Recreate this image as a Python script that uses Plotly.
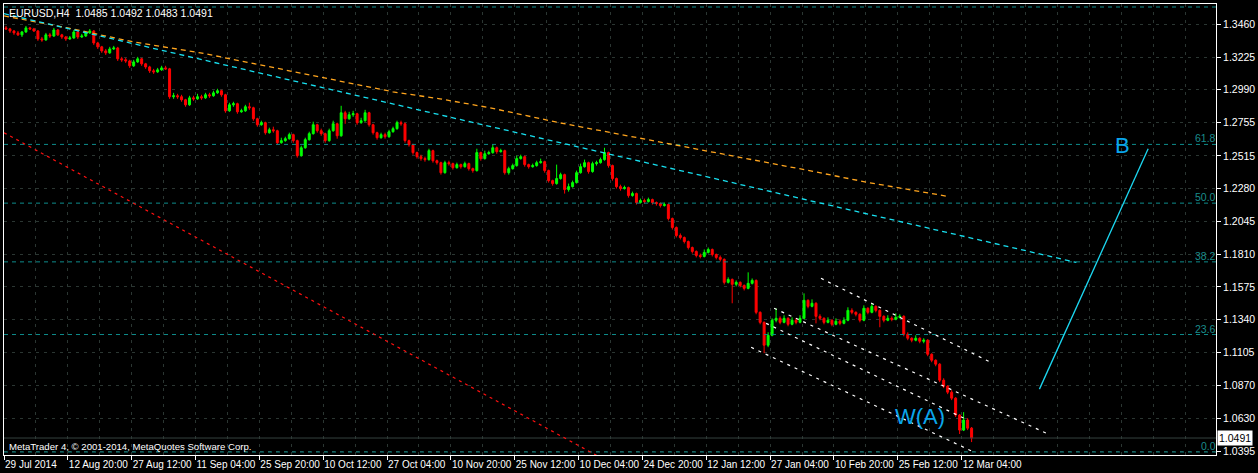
import plotly.graph_objects as go

# ---------------- data (EURUSD H4, one candle = 4 bars) ----------------
first_open = 1.3434
closes = [
    1.3427, 1.3412, 1.3398, 1.3384, 1.3405, 1.3434, 1.3427, 1.3412, 1.3355, 1.3348,
    1.3384, 1.3376, 1.3419, 1.3384, 1.3369, 1.3355, 1.3362, 1.3405, 1.3369, 1.3376,
    1.3398, 1.3412, 1.3326, 1.3298, 1.3269, 1.3255, 1.3283, 1.3290, 1.3212, 1.3205,
    1.3197, 1.3162, 1.3190, 1.3212, 1.3176, 1.3154, 1.3126, 1.3119, 1.3133, 1.3147,
    1.3140, 1.2940, 1.2947, 1.2940, 1.2918, 1.2882, 1.2932, 1.2925, 1.2940, 1.2932,
    1.2954, 1.2947, 1.2968, 1.2983, 1.2954, 1.2839, 1.2882, 1.2890, 1.2832, 1.2839,
    1.2868, 1.2861, 1.2782, 1.2739, 1.2754, 1.2682, 1.2703, 1.2696, 1.2610, 1.2625,
    1.2639, 1.2668, 1.2625, 1.2517, 1.2574, 1.2632, 1.2675, 1.2739, 1.2696, 1.2675,
    1.2625, 1.2696, 1.2746, 1.2660, 1.2825, 1.2782, 1.2811, 1.2818, 1.2754, 1.2768,
    1.2825, 1.2739, 1.2682, 1.2646, 1.2668, 1.2653, 1.2689, 1.2711, 1.2754, 1.2746,
    1.2625, 1.2596, 1.2539, 1.2510, 1.2496, 1.2489, 1.2553, 1.2481, 1.2467, 1.2395,
    1.2467, 1.2460, 1.2431, 1.2453, 1.2438, 1.2460, 1.2424, 1.2410, 1.2539, 1.2496,
    1.2531, 1.2539, 1.2574, 1.2546, 1.2553, 1.2395, 1.2424, 1.2446, 1.2496, 1.2510,
    1.2453, 1.2438, 1.2446, 1.2467, 1.2474, 1.2410, 1.2338, 1.2317, 1.2353, 1.2381,
    1.2274, 1.2295, 1.2324, 1.2395, 1.2438, 1.2467, 1.2403, 1.2460, 1.2467, 1.2489,
    1.2539, 1.2446, 1.2353, 1.2295, 1.2281, 1.2288, 1.2231, 1.2245, 1.2181, 1.2195,
    1.2188, 1.2202, 1.2181, 1.2174, 1.2159, 1.2166, 1.2066, 1.2002, 1.1944, 1.1930,
    1.1901, 1.1858, 1.1830, 1.1801, 1.1794, 1.1823, 1.1844, 1.1808, 1.1787, 1.1773,
    1.1608, 1.1629, 1.1594, 1.1608, 1.1586, 1.1565, 1.1601, 1.1622, 1.1393, 1.1321,
    1.1157, 1.1228, 1.1336, 1.1350, 1.1321, 1.1350, 1.1307, 1.1336, 1.1321, 1.1350,
    1.1479, 1.1436, 1.1458, 1.1364, 1.1350, 1.1321, 1.1336, 1.1307, 1.1329, 1.1314,
    1.1336, 1.1407, 1.1393, 1.1379, 1.1336, 1.1422, 1.1393, 1.1436, 1.1407, 1.1364,
    1.1336, 1.1350, 1.1343, 1.1357, 1.1364, 1.1236, 1.1207, 1.1193, 1.1207, 1.1185,
    1.1193, 1.1092, 1.1049, 1.1021, 1.0906, 1.0863, 1.0820, 1.0777, 1.0656, 1.0548,
    1.0620, 1.0562, 1.0491,
]
highs = [
    1.3448, 1.3434, 1.3419, 1.3412, 1.3412, 1.3448, 1.3441, 1.3434, 1.3419, 1.3369,
    1.3398, 1.3398, 1.3434, 1.3426, 1.3391, 1.3376, 1.3376, 1.3419, 1.3412, 1.3391,
    1.3412, 1.3426, 1.3419, 1.3334, 1.3305, 1.3283, 1.3298, 1.3305, 1.3298, 1.3226,
    1.3219, 1.3205, 1.3205, 1.3226, 1.3219, 1.3183, 1.3162, 1.3140, 1.3147, 1.3162,
    1.3162, 1.3147, 1.2968, 1.2961, 1.2954, 1.2925, 1.2947, 1.2947, 1.2961, 1.2954,
    1.2968, 1.2968, 1.2983, 1.2997, 1.2990, 1.2961, 1.2897, 1.2904, 1.2897, 1.2854,
    1.2882, 1.2897, 1.2868, 1.2789, 1.2768, 1.2761, 1.2718, 1.2725, 1.2703, 1.2646,
    1.2653, 1.2682, 1.2675, 1.2632, 1.2589, 1.2646, 1.2689, 1.2761, 1.2746, 1.2711,
    1.2682, 1.2711, 1.2768, 1.2754, 1.2875, 1.2839, 1.2832, 1.2839, 1.2825, 1.2789,
    1.2846, 1.2832, 1.2746, 1.2689, 1.2682, 1.2682, 1.2703, 1.2725, 1.2768, 1.2768,
    1.2754, 1.2632, 1.2603, 1.2546, 1.2524, 1.2510, 1.2567, 1.2560, 1.2489, 1.2474,
    1.2481, 1.2481, 1.2467, 1.2467, 1.2460, 1.2474, 1.2467, 1.2431, 1.2567, 1.2546,
    1.2553, 1.2553, 1.2596, 1.2582, 1.2567, 1.2560, 1.2438, 1.2460, 1.2517, 1.2524,
    1.2517, 1.2460, 1.2460, 1.2481, 1.2496, 1.2481, 1.2417, 1.2345, 1.2453, 1.2395,
    1.2388, 1.2317, 1.2338, 1.2410, 1.2460, 1.2489, 1.2474, 1.2474, 1.2481, 1.2503,
    1.2574, 1.2546, 1.2453, 1.2360, 1.2309, 1.2302, 1.2295, 1.2259, 1.2252, 1.2209,
    1.2209, 1.2216, 1.2209, 1.2188, 1.2181, 1.2181, 1.2173, 1.2073, 1.2009, 1.1959,
    1.1937, 1.1908, 1.1865, 1.1837, 1.1815, 1.1844, 1.1858, 1.1851, 1.1815, 1.1801,
    1.1780, 1.1644, 1.1636, 1.1622, 1.1615, 1.1593, 1.1680, 1.1636, 1.1629, 1.1400,
    1.1328, 1.1250, 1.1350, 1.1422, 1.1364, 1.1372, 1.1357, 1.1357, 1.1350, 1.1372,
    1.1529, 1.1486, 1.1486, 1.1465, 1.1379, 1.1357, 1.1357, 1.1343, 1.1350, 1.1343,
    1.1357, 1.1429, 1.1422, 1.1400, 1.1386, 1.1443, 1.1429, 1.1458, 1.1443, 1.1414,
    1.1372, 1.1372, 1.1364, 1.1386, 1.1379, 1.1372, 1.1250, 1.1214, 1.1228, 1.1214,
    1.1207, 1.1200, 1.1099, 1.1056, 1.1028, 1.0920, 1.0870, 1.0834, 1.0784, 1.0663,
    1.0677, 1.0634, 1.0570,
]
lows = [
    1.3420, 1.3398, 1.3384, 1.3376, 1.3369, 1.3398, 1.3419, 1.3405, 1.3341, 1.3334,
    1.3341, 1.3362, 1.3369, 1.3376, 1.3355, 1.3341, 1.3348, 1.3355, 1.3355, 1.3362,
    1.3369, 1.3391, 1.3312, 1.3283, 1.3255, 1.3240, 1.3248, 1.3276, 1.3197, 1.3190,
    1.3183, 1.3147, 1.3154, 1.3183, 1.3162, 1.3140, 1.3111, 1.3104, 1.3111, 1.3126,
    1.3133, 1.2925, 1.2925, 1.2925, 1.2904, 1.2868, 1.2875, 1.2911, 1.2918, 1.2918,
    1.2925, 1.2932, 1.2940, 1.2961, 1.2940, 1.2825, 1.2832, 1.2868, 1.2818, 1.2825,
    1.2832, 1.2846, 1.2768, 1.2725, 1.2732, 1.2668, 1.2675, 1.2682, 1.2596, 1.2603,
    1.2617, 1.2632, 1.2610, 1.2503, 1.2510, 1.2567, 1.2625, 1.2668, 1.2682, 1.2660,
    1.2610, 1.2617, 1.2689, 1.2639, 1.2653, 1.2746, 1.2775, 1.2796, 1.2739, 1.2746,
    1.2761, 1.2725, 1.2668, 1.2632, 1.2639, 1.2639, 1.2646, 1.2682, 1.2703, 1.2732,
    1.2610, 1.2582, 1.2524, 1.2496, 1.2481, 1.2474, 1.2481, 1.2467, 1.2453, 1.2381,
    1.2388, 1.2446, 1.2417, 1.2424, 1.2424, 1.2431, 1.2410, 1.2395, 1.2403, 1.2481,
    1.2489, 1.2524, 1.2531, 1.2531, 1.2539, 1.2381, 1.2381, 1.2417, 1.2438, 1.2489,
    1.2438, 1.2424, 1.2431, 1.2438, 1.2460, 1.2395, 1.2324, 1.2302, 1.2309, 1.2345,
    1.2245, 1.2259, 1.2288, 1.2317, 1.2388, 1.2431, 1.2388, 1.2395, 1.2446, 1.2460,
    1.2481, 1.2431, 1.2338, 1.2281, 1.2266, 1.2274, 1.2216, 1.2223, 1.2166, 1.2173,
    1.2173, 1.2181, 1.2166, 1.2159, 1.2145, 1.2152, 1.2052, 1.1987, 1.1930, 1.1916,
    1.1887, 1.1844, 1.1815, 1.1787, 1.1780, 1.1787, 1.1815, 1.1794, 1.1773, 1.1758,
    1.1593, 1.1600, 1.1458, 1.1579, 1.1572, 1.1550, 1.1558, 1.1593, 1.1379, 1.1307,
    1.1100, 1.1143, 1.1221, 1.1321, 1.1307, 1.1314, 1.1293, 1.1300, 1.1307, 1.1314,
    1.1343, 1.1422, 1.1429, 1.1314, 1.1336, 1.1307, 1.1314, 1.1293, 1.1300, 1.1300,
    1.1307, 1.1329, 1.1379, 1.1364, 1.1321, 1.1329, 1.1379, 1.1386, 1.1393, 1.1286,
    1.1321, 1.1329, 1.1329, 1.1336, 1.1350, 1.1221, 1.1193, 1.1178, 1.1185, 1.1171,
    1.1171, 1.1078, 1.1035, 1.1006, 1.0892, 1.0849, 1.0806, 1.0763, 1.0642, 1.0520,
    1.0541, 1.0548, 1.0462,
]
opens = [first_open] + closes[:-1]
bar_pos = list(range(2, 2 + 4 * len(closes), 4))  # position on the H4-bar axis

time_ticks = [0, 64, 128, 192, 256, 320, 384, 448, 512, 576, 640, 704, 768, 832, 896, 960]
time_labels = ["29 Jul 2014", "12 Aug 20:00", "27 Aug 12:00", "11 Sep 04:00", "25 Sep 20:00",
               "10 Oct 12:00", "27 Oct 04:00", "10 Nov 20:00", "25 Nov 12:00", "10 Dec 04:00",
               "24 Dec 20:00", "12 Jan 12:00", "27 Jan 04:00", "10 Feb 20:00", "25 Feb 12:00",
               "12 Mar 04:00"]
grid_minor = [32 + 64 * i for i in range(19)] + [1024, 1088, 1152]
price_ticks = [1.3460, 1.3225, 1.2990, 1.2755, 1.2515, 1.2280, 1.2045, 1.1810, 1.1575,
               1.1340, 1.1105, 1.0870, 1.0630, 1.0395]
price_labels = ["%.4f" % p for p in price_ticks]
x_range = [0, 1215]
y_range = [1.03692, 1.36055]

fib_low, fib_high = 1.0391, 1.3962
fib_levels = [0.0, 23.6, 38.2, 50.0, 61.8]
top_level = 1.3584
bid_price = 1.0491

ma_x = [0, 64, 130, 197, 247, 317, 390, 437, 487, 557, 650, 727, 797, 867, 947]
ma_y = [1.3520, 1.3434, 1.3333, 1.3255, 1.3183, 1.3083, 1.2975, 1.2925, 1.2861, 1.2753,
        1.2625, 1.2524, 1.2424, 1.2324, 1.2224]
trend_cyan = ([0, 1075], [1.3536, 1.1751])
trend_red = ([0, 597], [1.2682, 1.0355])
channel_lines = [
    ([819, 989], [1.1637, 1.1035]),
    ([772, 1049], [1.1422, 1.0512]),
    ([764, 962], [1.1314, 1.0634]),
    ([749, 972], [1.1142, 1.0391]),
]
b_leg = ([1038, 1147], [1.0842, 1.2567])
wave_labels = [("W(A)", 918, 1.0648), ("B", 1121, 1.2589)]

# ---------------- figure ----------------
FONT = "Liberation Sans"
fig = go.Figure()

# fib + top level lines
for lvl in fib_levels:
    p = fib_low + (fib_high - fib_low) * lvl / 100.0
    fig.add_trace(go.Scatter(x=x_range, y=[p, p], mode="lines", hoverinfo="skip",
                             line=dict(color="#0E8C8C", width=1, dash="4px,4px")))
    fig.add_annotation(x=1, xref="paper", y=p, yref="y", text="%.1f" % lvl, showarrow=False,
                       xanchor="right", yanchor="bottom", xshift=2, yshift=-2,
                       font=dict(family=FONT, size=10.5, color="#1A8C8C"))
fig.add_trace(go.Scatter(x=x_range, y=[top_level, top_level], mode="lines", hoverinfo="skip",
                         line=dict(color="#0E8C8C", width=1, dash="4px,4px")))

# bid line
fig.add_trace(go.Scatter(x=x_range, y=[bid_price, bid_price], mode="lines", hoverinfo="skip",
                         line=dict(color="#34423E", width=1)))

# moving average / trendlines
fig.add_trace(go.Scatter(x=ma_x, y=ma_y, mode="lines", hoverinfo="skip",
                         line=dict(color="#FFA51E", width=1.3, dash="5px,4px")))
fig.add_trace(go.Scatter(x=trend_cyan[0], y=trend_cyan[1], mode="lines", hoverinfo="skip",
                         line=dict(color="#18E0F0", width=1.3, dash="5px,4px")))
fig.add_trace(go.Scatter(x=trend_red[0], y=trend_red[1], mode="lines", hoverinfo="skip",
                         line=dict(color="#FF1010", width=1.2, dash="3px,4px")))
for xs, ys in channel_lines:
    fig.add_trace(go.Scatter(x=xs, y=ys, mode="lines", hoverinfo="skip",
                             line=dict(color="#FFFFFF", width=1.2, dash="3px,5px")))
fig.add_trace(go.Scatter(x=b_leg[0], y=b_leg[1], mode="lines", hoverinfo="skip",
                         line=dict(color="#1CD8F2", width=1.3)))

# candles
fig.add_trace(go.Candlestick(
    x=bar_pos, open=opens, high=highs, low=lows, close=closes,
    increasing=dict(line=dict(color="#00FF00", width=1), fillcolor="#00FF00"),
    decreasing=dict(line=dict(color="#FF0000", width=1), fillcolor="#FF0000"),
    whiskerwidth=0, hoverinfo="skip"))

for txt, x, y in wave_labels:
    fig.add_annotation(x=x, y=y, text=txt, showarrow=False, xanchor="center", yanchor="middle",
                       font=dict(family=FONT, size=22, color="#0AA6EC"))

# header / footer text
fig.add_annotation(x=0, xref="paper", y=1, yref="paper", xanchor="left", yanchor="top",
                   xshift=3, yshift=-1, showarrow=False,
                   text="EURUSD,H4 \u00a01.0485 1.0492 1.0483 1.0491",
                   font=dict(family=FONT, size=10.5, color="#FFFFFF"))
fig.add_annotation(x=0, xref="paper", y=0, yref="paper", xanchor="left", yanchor="bottom",
                   xshift=3, yshift=1, showarrow=False,
                   text="MetaTrader 4, \u00a9 2001-2014, MetaQuotes Software Corp.",
                   font=dict(family=FONT, size=9.6, color="#FFFFFF"))
# bid price tag
fig.add_annotation(x=1, xref="paper", y=bid_price, yref="y", xanchor="left", yanchor="middle",
                   xshift=1, showarrow=False, text="%.4f" % bid_price, bgcolor="#FFFFFF",
                   borderpad=1, font=dict(family=FONT, size=10.5, color="#000000"))

GRID = "#2B3632"
fig.update_layout(
    width=1258, height=473,
    margin=dict(l=3, r=40, t=3, b=18),
    paper_bgcolor="#000000", plot_bgcolor="#000000",
    showlegend=False,
    xaxis=dict(range=x_range, rangeslider=dict(visible=False), tickmode="array",
               tickvals=time_ticks, ticktext=time_labels, ticks="outside", ticklen=4,
               tickcolor="#FFFFFF", ticklabelposition="outside right", tickangle=0,
               tickfont=dict(family=FONT, size=10, color="#FFFFFF"),
               showgrid=True, gridcolor=GRID, griddash="3px,5px", gridwidth=1,
               minor=dict(tickvals=grid_minor, showgrid=True, gridcolor=GRID,
                          griddash="3px,5px", ticks=""),
               showline=True, linecolor="#FFFFFF", linewidth=1, mirror=True, zeroline=False),
    yaxis=dict(range=y_range, side="right", tickmode="array", tickvals=price_ticks,
               ticktext=price_labels, ticks="outside", ticklen=4, tickcolor="#FFFFFF",
               tickfont=dict(family=FONT, size=10.5, color="#FFFFFF"),
               showgrid=True, gridcolor=GRID, griddash="3px,5px", gridwidth=1,
               showline=True, linecolor="#FFFFFF", linewidth=1, mirror=True, zeroline=False),
)

fig.write_html("out.html", config={"displayModeBar": False},
               post_script="document.body.style.margin='0';document.body.style.overflow='hidden';")
